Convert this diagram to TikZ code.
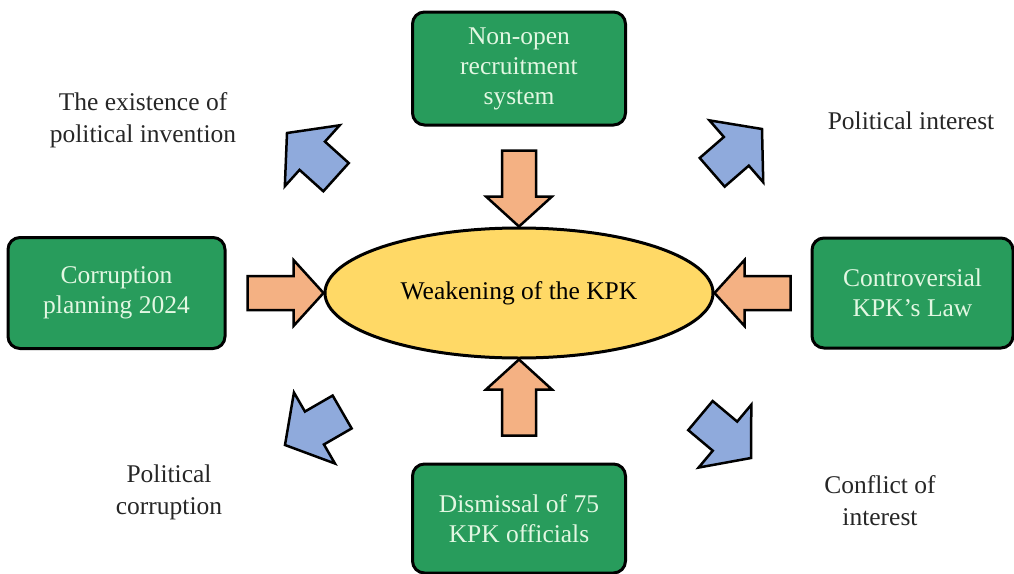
\documentclass[tikz,border=0pt]{standalone}
\usepackage{fontspec}
\setmainfont{Liberation Serif}
\usetikzlibrary{shapes,positioning,calc}
\definecolor{boxgreen}{RGB}{40,156,92}
\definecolor{boxtext}{RGB}{226,247,226}
\definecolor{coreyellow}{RGB}{255,217,102}
\definecolor{pushorange}{RGB}{244,177,131}
\definecolor{pullblue}{RGB}{143,170,220}
\tikzset{
  % Define style for boxes
  box/.style={
    rectangle,
    rounded corners=12pt,
    draw=black, line width=3pt,
    fill=boxgreen, text=boxtext,
    minimum width=213pt,
    minimum height=112pt,
    align=center,
    font=\fontsize{25.5}{30}\selectfont},
  % Define round style
  round/.style={
    ellipse, draw=black, line width=3pt,
    fill=coreyellow,
    minimum width=388pt,
    minimum height=130pt,
    font=\fontsize{25.5}{30}\selectfont
  },
  % free text
  note/.style={align=center, text=black!85, font=\fontsize{25.5}{32}\selectfont},
  % block arrow into the ellipse, tip at the origin
  inarrow/.pic={
    \filldraw[fill=pushorange, draw=black, line width=2.5pt, line join=miter]
      (0,0) -- (-30,33) -- (-30,17) -- (-76,17) -- (-76,-17) -- (-30,-17) -- (-30,-33) -- cycle;},
  % block arrow out of the picture, tip at the origin
  outarrow/.pic={
    \filldraw[fill=pullblue, draw=black, line width=2.5pt, line join=miter]
      (0,0) -- (-34,41) -- (-34,19) -- (-66,19) -- (-66,-19) -- (-34,-19) -- (-34,-41) -- cycle;},
}
\begin{document}
\begin{tikzpicture}[x=1pt, y=1pt]
  \useasboundingbox (0,0) rectangle (1014,-573);
  % nodes
  \node[round] (kpk) at (519,-293) {Weakening of the KPK};
  \node[box, above=100pt of kpk, minimum height=113pt] (recruit) {Non-open\\recruitment\\system};
  \node[box, left=97pt of kpk, minimum width=217pt, minimum height=111pt] (plan) {Corruption\\planning 2024};
  \node[box, right=96pt of kpk, minimum width=201pt, minimum height=110pt] (law) {Controversial\\KPK’s Law};
  \node[box, below=103pt of kpk, minimum height=109pt] (dismiss) {Dismissal of 75\\KPK officials};
  % arrows into the ellipse
  \pic[rotate=270] at (kpk.north) {inarrow};
  \pic[rotate=0] at (kpk.west) {inarrow};
  \pic[rotate=180] at (kpk.east) {inarrow};
  \pic[rotate=90] at (kpk.south) {inarrow};
  % texts
  \node[note] (invention) at (143,-120) {The existence of\\political invention};
  \node[note] (interest) at (911,-121) {Political interest};
  \node[note] (corruption) at (169,-492) {Political\\corruption};
  \node[note] (conflict) at (880,-501) {Conflict of\\interest};
  % arrows out
  \pic[rotate=138] at (287,-133) {outarrow};
  \pic[rotate=41] at (762,-129) {outarrow};
  \pic[rotate=210] at (285,-445) {outarrow};
  \pic[rotate=-40] at (751,-458) {outarrow};
\end{tikzpicture}
\end{document}
